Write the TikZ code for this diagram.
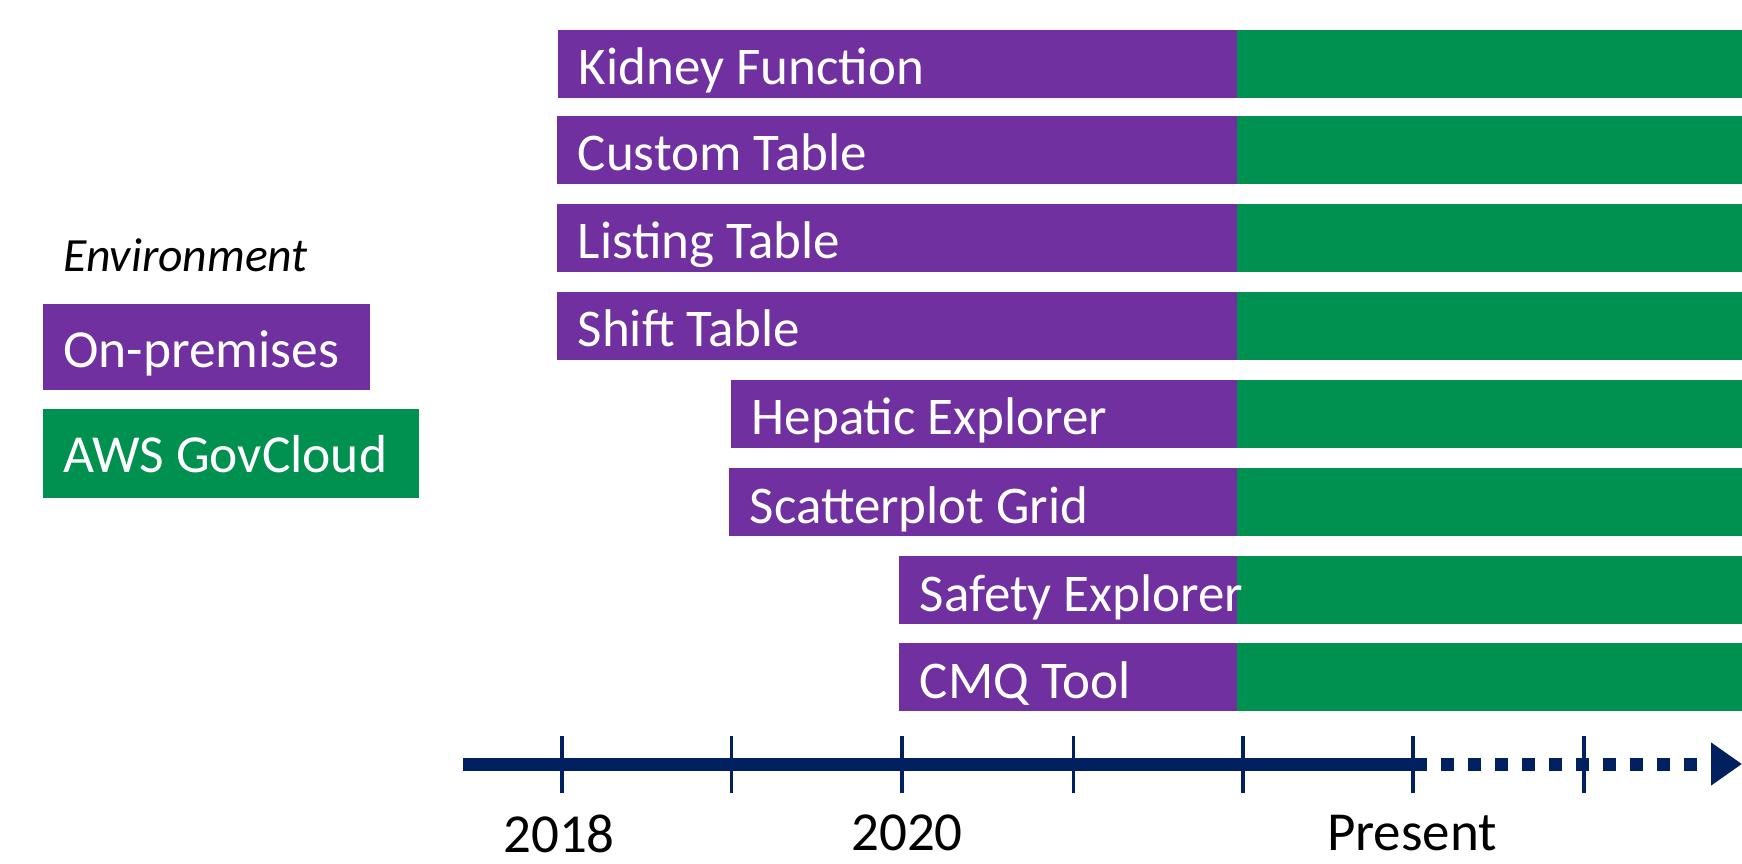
\documentclass[tikz,border=0pt]{standalone}
\usepackage{fontspec}
\setmainfont{Carlito}
\usetikzlibrary{arrows.meta,positioning}
\definecolor{prem}{HTML}{7030A0}
\definecolor{gov}{HTML}{009150}
\definecolor{axisblue}{HTML}{002060}
\newcommand{\barfont}{\fontsize{53}{62}\selectfont}

\begin{document}
\begin{tikzpicture}[x=1pt, y=1pt,
    prembar/.style={fill=prem, inner sep=0pt, minimum height=68pt},
    govbar/.style={fill=gov, inner sep=0pt, minimum height=68pt, minimum width=505pt, anchor=west},
    bartext/.style={text=white, font=\barfont, anchor=base west, inner sep=0pt},
    keybox/.style={inner sep=0pt, anchor=north west},
    keytext/.style={text=white, font=\fontsize{53.5}{62}\selectfont, anchor=base west, inner sep=0pt},
    axisline/.style={axisblue, line width=13pt},
    tickmark/.style={axisblue, line width=3.3pt},
    year/.style={font=\fontsize{55}{64}\selectfont, anchor=base, inner sep=0pt}]
  \useasboundingbox (0,0) rectangle (1742,863);

  % legend
  \node[font=\fontsize{47.7}{56}\selectfont\itshape, anchor=base west, inner sep=0pt] (env) at (63,591) {Environment};
  \node[keybox, fill=prem, minimum width=327pt, minimum height=86pt] (onprem) at (43,559) {};
  \node[keytext] (onprem-txt) at ([xshift=20pt, yshift=-20pt]onprem.west) {On-premises};
  \node[keybox, fill=gov, minimum width=376pt, minimum height=89pt, below=18pt of onprem.south west, anchor=north west] (aws) {};
  \node[keytext] (aws-txt) at ([xshift=20pt, yshift=-19pt]aws.west) {AWS GovCloud};

  % bars: purple up to the move, green after it
  \foreach \name/\x/\y/\txt in {kidney/558/799/Kidney Function, custom/557/713/Custom Table,
      listing/557/625/Listing Table, shift/557/537/Shift Table,
      hepatic/731/449/Hepatic Explorer, scatter/729/361/Scatterplot Grid,
      safety/899/273/Safety Explorer, cmq/899/186/CMQ Tool}{
    \pgfmathsetmacro\w{1237-\x}
    \node[govbar] (\name-gov) at (1237,\y) {};
    \node[prembar, left=0pt of \name-gov, minimum width=\w pt] (\name) {};
    \node[bartext] (\name-txt) at ([xshift=21pt, yshift=-21pt]\name.west) {\txt};
  }

  % timeline
  \coordinate (start) at (463,99);
  \coordinate (now) at (1427,99);
  \coordinate (stop) at (1742,99);
  \draw[axisline] (start) -- (now);
  \draw[axisline, dash pattern=on 13pt off 14pt, dash phase=13pt, -{Triangle[length=31pt, width=41pt]}] (now) -- (stop);
  \foreach \tx in {562, 731.5, 902, 1073.5, 1243, 1413, 1584}
    \draw[tickmark] (\tx,127.5) -- (\tx,70);

  \node[year] (y2018) at (559,11) {2018};
  \node[year] (y2020) at (907,13) {2020};
  \node[year] (present) at (1412,13) {Present};
\end{tikzpicture}
\end{document}
